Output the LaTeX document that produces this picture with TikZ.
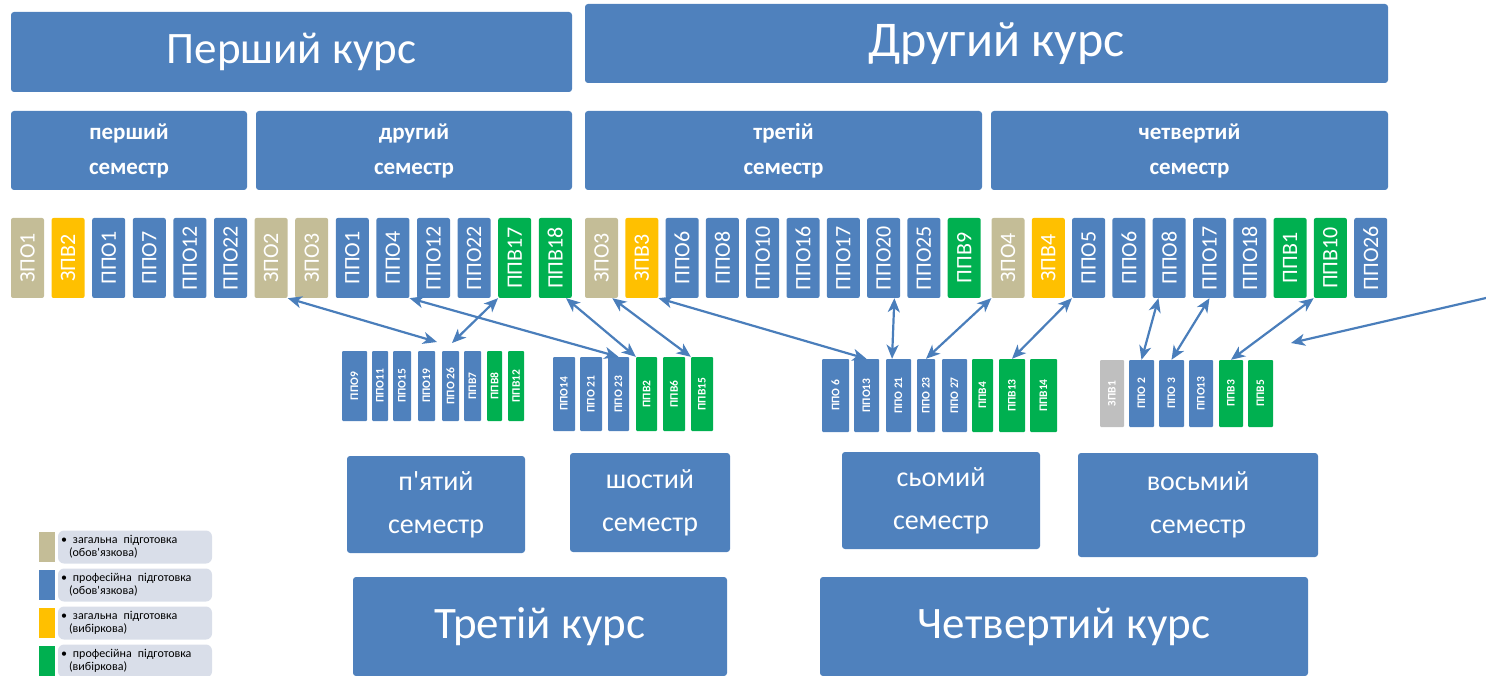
\documentclass[tikz,border=0pt]{standalone}
\usepackage{fontspec}
\usepackage{graphicx}
\setmainfont{Carlito}[Ligatures = TeXOff]
\usetikzlibrary{calc, arrows.meta}
\definecolor{tblue}{HTML}{4F81BD}
\definecolor{ttan}{HTML}{C4BD97}
\definecolor{tyel}{HTML}{FFC000}
\definecolor{tgrn}{HTML}{00B050}
\definecolor{tgry}{HTML}{BFBFBF}
\definecolor{tleg}{HTML}{D9DEE9}
\definecolor{tarr}{HTML}{4A7EBB}
\tikzset{
  block/.style = {fill = tblue, rounded corners = 3pt, text = white, inner sep = 0pt, align = center},
  course/.style = {block, font = \fontsize{45}{50}\selectfont},
  sem/.style = {block, font = \bfseries\fontsize{23}{35}\selectfont},
  semlow/.style = {block, font = \fontsize{28}{43}\selectfont},
  subj/.style = {fill = #1, rounded corners = 2pt, inner sep = 0pt, text = white,
    minimum width = 33pt, minimum height = 80pt, font = \fontsize{22}{22}\selectfont},
  subjsm/.style = {fill = #1, rounded corners = 1pt, inner sep = 0pt, text = white,
    font = \bfseries\fontsize{11.5}{11.5}\selectfont},
  legbox/.style = {fill = tleg, rounded corners = 6pt, inner sep = 3pt, align = left,
    text width = 148pt, minimum height = 33pt, font = \fontsize{12}{13}\selectfont},
  tip/.style = {Stealth[length = 14pt, width = 12pt, inset = 4pt]},
  link/.style = {tarr, line width = 2.2pt, {Stealth[length = 14pt, width = 12pt, inset = 4pt]}-{Stealth[length = 14pt, width = 12pt, inset = 4pt]}},
}
\begin{document}
\begin{tikzpicture}[x = 1pt, y = -1pt]
  \useasboundingbox (0, 0) rectangle (1486, 676);
  % years and semesters
  \node[course, minimum width = 561pt, minimum height = 80pt] (y1) at (291.5, 52) {Перший курс};
  \node[course, minimum width = 803pt, minimum height = 79pt, font = \fontsize{50}{56}\selectfont] (y2) at (986.5, 43.5) {\hspace*{20pt}Другий курс};
  \node[sem, minimum width = 236pt, minimum height = 79pt] (s1) at (129, 150.5) {перший\\семестр};
  \node[sem, minimum width = 316pt, minimum height = 79pt] (s2) at (414, 150.5) {другий\\семестр};
  \node[sem, minimum width = 397pt, minimum height = 79pt] (s3) at (783.5, 150.5) {третій\\семестр};
  \node[sem, minimum width = 397pt, minimum height = 79pt] (s4) at (1189.5, 150.5) {четвертий\\семестр};
  \node[semlow, minimum width = 178pt, minimum height = 97pt] (s5) at (436, 504.5) {п'ятий\\семестр};
  \node[semlow, minimum width = 160pt, minimum height = 99pt] (s6) at (650, 502.5) {шостий\\семестр};
  \node[semlow, minimum width = 198pt, minimum height = 97pt] (s7) at (941, 500.5) {сьомий\\семестр};
  \node[semlow, minimum width = 240pt, minimum height = 104pt] (s8) at (1198, 505) {восьмий\\семестр};
  \node[course, minimum width = 374pt, minimum height = 99pt] (y3) at (540, 626.5) {Третій курс};
  \node[course, minimum width = 488pt, minimum height = 99pt] (y4) at (1064, 626.5) {Четвертий курс};
  % first and second year subjects
  \foreach \t/\c [count = \i] in {ЗПО1/ttan, ЗПВ2/tyel, ППО1/tblue, ППО7/tblue, ППО12/tblue, ППО22/tblue,
      ЗПО2/ttan, ЗПО3/ttan, ППО1/tblue, ППО4/tblue, ППО12/tblue, ППО22/tblue, ППВ17/tgrn, ППВ18/tgrn}
    \node[subj = \c] (a\i) at ({27.5 + 40.6*(\i - 1)}, 258) {\rotatebox{90}{\t}};
  \foreach \t/\c [count = \i] in {ЗПО3/ttan, ЗПВ3/tyel, ППО6/tblue, ППО8/tblue, ППО10/tblue, ППО16/tblue,
      ППО17/tblue, ППО20/tblue, ППО25/tblue, ППВ9/tgrn}
    \node[subj = \c] (b\i) at ({601.5 + 40.3*(\i - 1)}, 258) {\rotatebox{90}{\t}};
  \foreach \t/\c [count = \i] in {ЗПО4/ttan, ЗПВ4/tyel, ППО5/tblue, ППО6/tblue, ППО8/tblue, ППО17/tblue,
      ППО18/tblue, ППВ1/tgrn, ППВ10/tgrn, ППО26/tblue}
    \node[subj = \c] (c\i) at ({1008 + 40.3*(\i - 1)}, 258) {\rotatebox{90}{\t}};
  % third and fourth year subjects
  \foreach \x/\w/\t/\c [count = \i] in {342/25/ППО9/tblue, 372/16/ППО11/tblue, 393/18/ППО15/tblue,
      418/17/ППО19/tblue, 442/17/ППО 26/tblue, 464/17/ППВ7/tblue, 487/15/ППВ8/tgrn, 508/16/ППВ12/tgrn}
    \node[subjsm = \c, minimum width = {\w pt}, minimum height = 70pt] (d\i) at ({\x + \w/2}, 386) {\rotatebox{90}{\t}};
  \foreach \x/\w/\t/\c [count = \i] in {553/22/ППО14/tblue, 580/22/ППО 21/tblue, 608/21/ППО 23/tblue,
      636/21/ППВ2/tgrn, 663/22/ППВ6/tgrn, 691/22/ППВ15/tgrn}
    \node[subjsm = \c, minimum width = {\w pt}, minimum height = 74pt] (e\i) at ({\x + \w/2}, 394) {\rotatebox{90}{\t}};
  \foreach \x/\w/\t/\c [count = \i] in {822/27/ППО 6/tblue, 854/25/ППО13/tblue, 886/25/ППО 21/tblue,
      917/18/ППО 23/tblue, 942/25/ППО 27/tblue, 972/21/ППВ4/tgrn, 999/26/ППВ13/tgrn, 1030/27/ППВ14/tgrn}
    \node[subjsm = \c, minimum width = {\w pt}, minimum height = 73pt] (f\i) at ({\x + \w/2}, 395.5) {\rotatebox{90}{\t}};
  \foreach \x/\w/\t/\c [count = \i] in {1100/24/ЗПВ1/tgry, 1129/25/ППО 2/tblue, 1159/25/ППО 3/tblue,
      1189/24/ППО13/tblue, 1219/24/ППВ3/tgrn, 1248/25/ППВ5/tgrn}
    \node[subjsm = \c, minimum width = {\w pt}, minimum height = 67pt] (g\i) at ({\x + \w/2}, 393.5) {\rotatebox{90}{\t}};
  % links
  \coordinate (p5l) at (437, 342);
  \coordinate (p5r) at (452, 343);
  \coordinate (p8) at (1291, 343);
  \coordinate (far) at (1486, 298);
  \draw[link] (a7.south east) -- (p5l);
  \draw[link] (a13.south west) -- (p5r);
  \draw[link] (a10.south east) -- (e3.north);
  \draw[link] (a14.-75) -- (e4.north west);
  \draw[link] (b1.-75) -- (e6.north west);
  \draw[link] (b2.south east) -- (f2.north);
  \draw[link] (b8.-75) -- (f3.100);
  \draw[link] (c1.south west) -- (f4.north);
  \draw[link] (c3.south west) -- (f7.north);
  \draw[link] (c5.-105) -- (g2.north);
  \draw[link] (c6.south) -- (g3.north);
  \draw[link] (c9.south west) -- (g5.north);
  \draw[tarr, line width = 2.2pt, -{Stealth[length = 14pt, width = 12pt, inset = 4pt]}] (far) -- (p8);
  % legend
  \foreach \c/\a/\b [count = \i] in {ttan/загальна/обов'язкова, tblue/професійна/обов'язкова,
      tyel/загальна/вибіркова, tgrn/професійна/вибіркова} {
    \fill[\c] (39, {532 + 38*(\i - 1)}) rectangle (55, {562 + 38*(\i - 1)});
    \node[legbox] (l\i) at (135, {547 + 38*(\i - 1)}) {•\enspace\a\enspace підготовка\\\hspace*{8pt}(\b)};
  }
\end{tikzpicture}
\end{document}
